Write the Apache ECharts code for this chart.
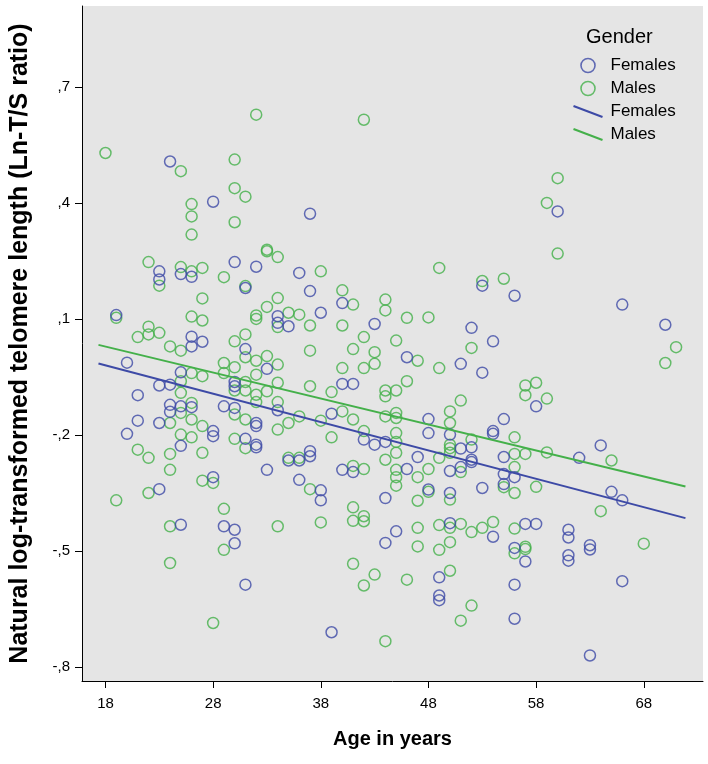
<!DOCTYPE html>
<html><head><meta charset="utf-8">
<script src="https://cdn.jsdelivr.net/npm/echarts@6/dist/echarts.min.js"></script>
<style>html,body{margin:0;padding:0;background:#fff}#c{width:708px;height:764px}</style>
</head><body><div id="c"></div>
<script>
const femaleAge = [24,28,37,60,23,23,25,26,30,31,19,26,27,26,31,20,25,23,24,30,30,21,24,24,25,26,29,30,21,23,28,28,20,31,25,28,32,36,37,40,43,34,34,35,38,46,33,40,41,34,32,32,39,42,43,44,32,32,37,37,35,36,40,33,53,56,52,54,51,53,58,48,48,50,54,54,55,51,52,52,52,47,46,50,51,55,66,70,64,62,23,25,29,30,30,31,36,38,38,41,44,45,44,39,48,50,53,55,56,55,50,54,57,58,56,57,61,61,61,61,49,49,49,56,56,65,66,63,63,66,63];
const femaleTL = [0.507,0.403,0.372,0.378,0.223,0.202,0.216,0.209,0.247,0.180,0.110,0.054,0.041,0.029,0.022,-0.013,-0.038,-0.072,-0.070,-0.063,-0.074,-0.097,-0.122,-0.140,-0.126,-0.128,-0.126,-0.130,-0.163,-0.169,-0.190,-0.203,-0.197,-0.210,-0.228,-0.309,0.235,0.219,0.172,0.141,0.087,0.107,0.090,0.081,0.116,0.001,-0.029,-0.068,-0.068,-0.136,-0.169,-0.177,-0.145,-0.212,-0.225,-0.218,-0.225,-0.232,-0.242,-0.255,-0.266,-0.266,-0.290,-0.290,0.186,0.160,0.077,0.042,-0.016,-0.039,-0.126,-0.159,-0.195,-0.199,-0.190,-0.197,-0.159,-0.235,-0.232,-0.264,-0.270,-0.257,-0.288,-0.293,-0.283,-0.257,0.137,0.085,-0.227,-0.259,-0.340,-0.432,-0.436,-0.445,-0.480,-0.587,-0.316,-0.343,-0.369,-0.296,-0.363,-0.449,-0.479,-0.710,-0.341,-0.350,-0.337,-0.301,-0.309,-0.327,-0.428,-0.463,-0.430,-0.430,-0.492,-0.527,-0.445,-0.465,-0.511,-0.525,-0.568,-0.615,-0.627,-0.587,-0.675,-0.347,-0.369,-0.485,-0.496,-0.578,-0.770];
const maleAge = [18,25,30,30,31,26,26,30,26,32,42,60,59,22,23,25,26,27,29,31,27,26,27,19,22,22,21,23,24,25,30,31,29,30,29,26,27,25,30,31,25,31,26,25,30,31,24,26,27,25,26,30,31,21,22,24,27,24,33,33,34,38,40,41,44,44,46,34,33,32,32,34,35,36,37,40,37,41,42,43,45,31,32,33,34,32,40,42,43,46,34,37,39,44,45,44,32,33,32,34,36,35,34,40,41,38,39,44,45,45,42,45,45,35,36,45,44,41,42,45,60,49,53,55,48,52,47,49,57,58,57,59,51,50,50,50,50,50,56,52,49,48,56,57,59,56,71,70,65,27,28,19,22,29,24,29,24,28,37,45,45,34,38,41,41,42,42,41,43,42,46,44,47,48,51,50,47,55,56,58,47,49,50,51,52,53,54,56,47,49,50,56,57,57,50,52,51,64,68];
const maleTL = [0.529,0.482,0.512,0.438,0.416,0.397,0.365,0.350,0.318,0.628,0.615,0.464,0.400,0.247,0.186,0.234,0.223,0.232,0.208,0.185,0.153,0.106,0.096,0.103,0.080,0.060,0.053,0.064,0.029,0.018,0.042,0.060,-0.014,-0.025,-0.040,-0.040,-0.048,-0.061,-0.085,-0.063,-0.091,-0.085,-0.117,-0.143,-0.147,-0.160,-0.169,-0.160,-0.177,-0.199,-0.206,-0.210,-0.234,-0.238,-0.259,-0.249,-0.246,-0.290,0.279,0.275,0.260,0.223,0.174,0.137,0.150,0.122,0.103,0.154,0.131,0.109,0.100,0.079,0.116,0.111,0.083,0.083,0.018,0.022,0.053,0.014,0.044,0.001,-0.008,0.004,-0.018,-0.044,-0.027,-0.027,-0.016,-0.061,-0.065,-0.074,-0.089,-0.085,-0.085,-0.100,-0.096,-0.087,-0.115,-0.115,-0.152,-0.169,-0.186,-0.139,-0.160,-0.163,-0.206,-0.152,-0.143,-0.156,-0.190,-0.195,-0.218,-0.259,-0.259,-0.246,-0.264,-0.280,-0.288,-0.290,0.269,0.232,0.198,0.204,0.104,0.025,-0.008,-0.027,-0.072,-0.065,-0.097,-0.106,-0.111,-0.139,-0.169,-0.225,-0.234,-0.246,-0.206,-0.212,-0.259,-0.288,-0.249,-0.249,-0.245,-0.283,0.027,-0.014,-0.266,-0.318,-0.324,-0.369,-0.350,-0.391,-0.436,-0.497,-0.531,-0.686,-0.340,-0.309,-0.331,-0.436,-0.426,-0.387,-0.422,-0.410,-0.423,-0.533,-0.561,-0.589,-0.574,-0.733,-0.309,-0.347,-0.296,-0.367,-0.370,-0.335,-0.350,-0.334,-0.440,-0.433,-0.440,-0.430,-0.451,-0.440,-0.425,-0.442,-0.488,-0.497,-0.477,-0.506,-0.489,-0.495,-0.551,-0.641,-0.680,-0.397,-0.481];
const fitAge = [17.35, 71.87];
const femaleFit = [-0.015, -0.415];
const maleFit = [0.033, -0.333];
const xTicks = [18, 28, 38, 48, 58, 68];
const yTicks = [-0.8, -0.5, -0.2, 0.1, 0.4, 0.7];

const BLUE = '#3d4aa6';
const GREEN = '#44b04a';
const FONT = "'Liberation Sans', Arial, Helvetica, sans-serif";

function pairs(xs, ys) { return xs.map((x, i) => [x, ys[i]]); }
function fmtY(v) {
  const s = Math.abs(v).toFixed(1).replace('0.', ',');
  return (v < 0 ? '-' : '') + s;
}

const chart = echarts.init(document.getElementById('c'), null, {renderer: 'canvas'});
chart.setOption({
  animation: false,
  textStyle: {fontFamily: FONT},
  title: {
    text: 'Gender', left: 586, top: 27, padding: 0,
    textStyle: {fontSize: 20, fontWeight: 'normal', color: '#000', fontFamily: FONT}
  },
  legend: {
    orient: 'vertical', left: 571, top: 57, padding: 0,
    itemWidth: 29, itemHeight: 14, itemGap: 6,
    selectedMode: false,
    formatter: n => n.trim(),
    textStyle: {fontSize: 17, color: '#000', fontFamily: FONT, padding: [0, 0, 0, 3]},
    data: [
      {name: 'Females', icon: 'circle', itemStyle: {color: 'rgba(0,0,0,0)', borderColor: BLUE, borderWidth: 1.6}},
      {name: 'Males', icon: 'circle', itemStyle: {color: 'rgba(0,0,0,0)', borderColor: GREEN, borderWidth: 1.6}},
      {name: 'Females ', icon: 'path://M0,0L29,11', itemStyle: {color: 'none', borderColor: BLUE, borderWidth: 2}},
      {name: 'Males ', icon: 'path://M0,0L29,11', itemStyle: {color: 'none', borderColor: GREEN, borderWidth: 2}}
    ]
  },
  grid: {left: 76, top: 6, right: 5, bottom: 83, show: true, backgroundColor: '#e5e5e5', borderWidth: 0},
  xAxis: {
    type: 'value', min: 15.82, max: 73.5,
    axisLine: {show: true, onZero: false, lineStyle: {color: '#000', width: 1}},
    axisTick: {show: true, customValues: xTicks, length: 7, lineStyle: {color: '#000', width: 1}},
    axisLabel: {customValues: xTicks, fontSize: 15, color: '#000', margin: 15, fontFamily: FONT},
    splitLine: {show: false},
    name: 'Age in years', nameLocation: 'middle', nameGap: 48,
    nameTextStyle: {fontSize: 20, fontWeight: 'bold', color: '#000', fontFamily: FONT}
  },
  yAxis: {
    type: 'value', min: -0.836, max: 0.909,
    axisLine: {show: true, onZero: false, lineStyle: {color: '#000', width: 1}},
    axisTick: {show: true, customValues: yTicks, length: 7, lineStyle: {color: '#000', width: 1}},
    axisLabel: {customValues: yTicks, fontSize: 15, color: '#000', margin: 12, formatter: fmtY, fontFamily: FONT},
    splitLine: {show: false},
    name: 'Natural log-transformed telomere length (Ln-T/S ratio)', nameLocation: 'middle', nameGap: 49,
    nameTextStyle: {fontSize: 25, fontWeight: 'bold', color: '#000', fontFamily: FONT}
  },
  series: [
    {
      name: 'Males', type: 'scatter', data: pairs(maleAge, maleTL),
      symbol: 'circle', symbolSize: 11,
      itemStyle: {color: 'rgba(0,0,0,0)', borderColor: GREEN, borderWidth: 1.5}
    },
    {
      name: 'Females', type: 'scatter', data: pairs(femaleAge, femaleTL),
      symbol: 'circle', symbolSize: 11,
      itemStyle: {color: 'rgba(0,0,0,0)', borderColor: BLUE, borderWidth: 1.5}
    },
    {
      name: 'Females ', type: 'line', data: pairs(fitAge, femaleFit),
      symbol: 'none', lineStyle: {color: BLUE, width: 2}, itemStyle: {color: BLUE}
    },
    {
      name: 'Males ', type: 'line', data: pairs(fitAge, maleFit),
      symbol: 'none', lineStyle: {color: GREEN, width: 2}, itemStyle: {color: GREEN}
    }
  ]
});
</script>
</body></html>
